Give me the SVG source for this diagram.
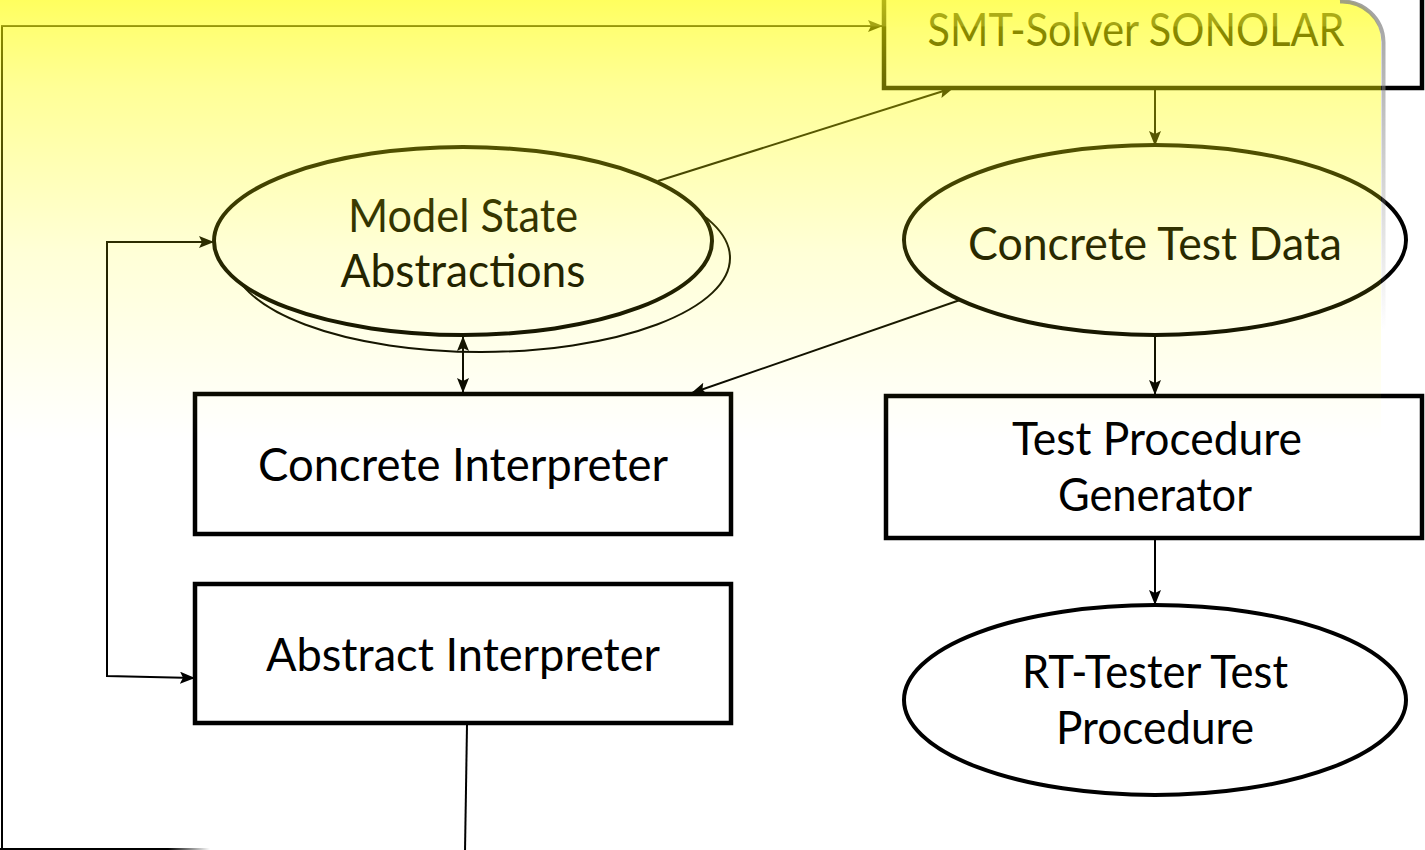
<svg xmlns="http://www.w3.org/2000/svg" width="1425" height="850" viewBox="0 0 1425 850">
<style>
.box{fill:#fff;stroke:#000;stroke-width:4.5}
.ell{fill:#fff;stroke:#000;stroke-width:4}
.lbl{font-family:Lato,"Open Sans",sans-serif;font-size:46px;fill:#000;text-anchor:middle}
.con{fill:none;stroke:#000;stroke-width:2}
</style>
<defs>
<marker id="ah" viewBox="0 0 15 12" refX="14" refY="6" markerWidth="15" markerHeight="12" markerUnits="userSpaceOnUse" orient="auto-start-reverse">
<path d="M0,0 L15,6 L0,12 L3,6 z" fill="#000"/>
</marker>
<linearGradient id="ov" gradientUnits="userSpaceOnUse" x1="0" y1="0" x2="0" y2="440">
<stop offset="0" stop-color="#ffff20" stop-opacity="0.72"/>
<stop offset="0.058" stop-color="#ffff20" stop-opacity="0.64"/>
<stop offset="0.062" stop-color="#ffff00" stop-opacity="0.55"/>
<stop offset="0.2" stop-color="#ffff00" stop-opacity="0.41"/>
<stop offset="0.57" stop-color="#ffff00" stop-opacity="0.16"/>
<stop offset="1" stop-color="#ffff00" stop-opacity="0"/>
</linearGradient>
<linearGradient id="sh" gradientUnits="userSpaceOnUse" x1="0" y1="0" x2="0" y2="330">
<stop offset="0" stop-color="#888" stop-opacity="0.8"/>
<stop offset="1" stop-color="#888" stop-opacity="0"/>
</linearGradient>
<linearGradient id="bf" gradientUnits="userSpaceOnUse" x1="0" y1="0" x2="210" y2="0">
<stop offset="0.8" stop-color="#000" stop-opacity="1"/>
<stop offset="1" stop-color="#000" stop-opacity="0"/>
</linearGradient>
</defs>
<rect width="1425" height="850" fill="#fff"/>

<g id="smt">
<rect class="box" x="884" y="-10" width="538" height="98"/>
<text class="lbl" x="1136" y="46" textLength="417" lengthAdjust="spacingAndGlyphs">SMT-Solver SONOLAR</text>
</g>

<g id="model-state">
<ellipse cx="481" cy="258" rx="249" ry="94" fill="#fff" stroke="#000" stroke-width="2"/>
<ellipse class="ell" cx="463" cy="241" rx="249" ry="94"/>
<text class="lbl" x="463" y="232" textLength="230" lengthAdjust="spacingAndGlyphs">Model State</text>
<text class="lbl" x="463" y="287" textLength="245" lengthAdjust="spacingAndGlyphs">Abstractions</text>
</g>

<g id="concrete-test-data">
<ellipse class="ell" cx="1155" cy="240" rx="251" ry="95"/>
<text class="lbl" x="1155" y="260" textLength="374" lengthAdjust="spacingAndGlyphs">Concrete Test Data</text>
</g>

<g id="concrete-interpreter">
<rect class="box" x="195" y="394" width="536" height="140"/>
<text class="lbl" x="463" y="481" textLength="410" lengthAdjust="spacingAndGlyphs">Concrete Interpreter</text>
</g>

<g id="abstract-interpreter">
<rect class="box" x="195" y="584" width="536" height="139"/>
<text class="lbl" x="463" y="671" textLength="394" lengthAdjust="spacingAndGlyphs">Abstract Interpreter</text>
</g>

<g id="test-procedure-generator">
<rect class="box" x="886" y="396" width="536" height="142"/>
<text class="lbl" x="1157" y="455" textLength="290" lengthAdjust="spacingAndGlyphs">Test Procedure</text>
<text class="lbl" x="1155" y="511" textLength="194" lengthAdjust="spacingAndGlyphs">Generator</text>
</g>

<g id="rt-tester">
<ellipse class="ell" cx="1155" cy="700" rx="251" ry="95"/>
<text class="lbl" x="1155" y="688" textLength="266" lengthAdjust="spacingAndGlyphs">RT-Tester Test</text>
<text class="lbl" x="1155" y="744" textLength="198" lengthAdjust="spacingAndGlyphs">Procedure</text>
</g>

<g id="connectors">
<path class="con" d="M467,725 L465,852"/>
<path class="con" d="M2,850 L2,26 L882,26" marker-end="url(#ah)"/>
<line x1="0" y1="849" x2="210" y2="849" stroke="url(#bf)" stroke-width="2"/>
<path class="con" d="M658,181 L953,88" marker-end="url(#ah)"/>
<path class="con" d="M1155,90 L1155,145" marker-end="url(#ah)"/>
<path class="con" d="M960,300 L692,393" marker-end="url(#ah)"/>
<path class="con" d="M463,337 L463,392" marker-start="url(#ah)" marker-end="url(#ah)"/>
<path class="con" d="M1155,337 L1155,394" marker-end="url(#ah)"/>
<path class="con" d="M1155,540 L1155,604" marker-end="url(#ah)"/>
<path class="con" d="M194,678 L107,676 L107,242 L213,242" marker-start="url(#ah)" marker-end="url(#ah)"/>
</g>

<g id="overlay">
<path d="M-10,0 L1341,0 A40,40 0 0 1 1381,40 L1381,900 L-10,900 z" fill="url(#ov)"/>
<path d="M1340,1.5 A41.5,41.5 0 0 1 1383.5,42 L1383.5,330" fill="none" stroke="url(#sh)" stroke-width="4"/>
</g>
</svg>
